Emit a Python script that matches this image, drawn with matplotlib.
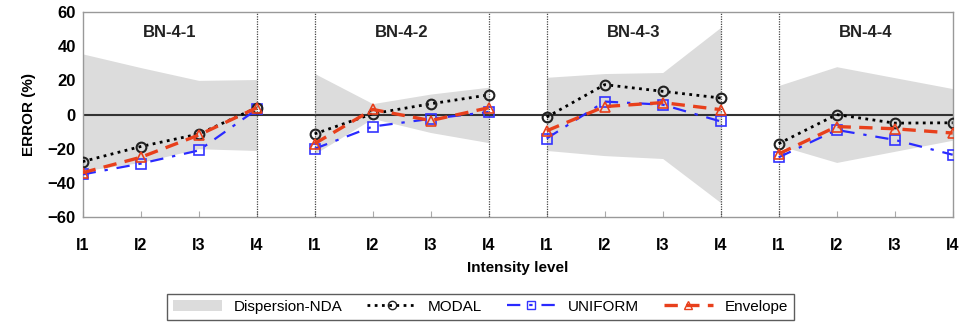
import matplotlib
matplotlib.use("Agg")
import matplotlib.pyplot as plt
import numpy as np
from matplotlib.patches import Patch
from matplotlib.lines import Line2D

plt.rcParams['font.family'] = ['Liberation Sans', 'DejaVu Sans']

panels = ["BN-4-1", "BN-4-2", "BN-4-3", "BN-4-4"]
levels = ["I1", "I2", "I3", "I4"]

modal = [[-27.5, -18.7, -11.4, 4.0],
         [-11.3, 0.5, 6.3, 11.5],
         [-1.5, 17.5, 13.6, 9.7],
         [-17.0, 0.0, -5.0, -4.8]]
uniform = [[-35.0, -28.7, -21.0, 3.0],
           [-20.0, -7.0, -2.5, 1.5],
           [-14.0, 7.6, 5.8, -4.0],
           [-25.0, -9.0, -14.8, -23.5]]
envelope = [[-34.0, -25.0, -12.0, 4.0],
            [-17.0, 3.0, -3.5, 4.0],
            [-9.5, 4.7, 7.0, 2.9],
            [-23.0, -7.0, -8.3, -10.8]]
disp_upper = [[35.5, 27.5, 20.0, 20.5],
              [24.0, 6.4, 12.0, 16.0],
              [21.8, 24.0, 24.6, 51.0],
              [17.0, 28.0, 21.6, 15.2]]
disp_lower = [[-33.0, -28.0, -20.0, -21.0],
              [-23.0, -2.3, -10.5, -16.4],
              [-21.0, -24.0, -25.7, -51.5],
              [-18.0, -28.0, -21.5, -15.0]]

fig = plt.figure(figsize=(9.59, 3.29), dpi=100)
ax = fig.add_axes([0.0862, 0.340, 0.9072, 0.6235])

n = len(levels)
for p in range(len(panels)):
    x = np.arange(n) + p * n
    ax.fill_between(x, disp_lower[p], disp_upper[p], color='#dcdcdc', lw=0, zorder=1)
    ax.plot(x, modal[p], color='black', ls=(0, (1, 1.6)), lw=2.0, marker='o',
            ms=7, mfc='none', mec='#222222', mew=1.5, zorder=4)
    ax.plot(x, uniform[p], color='#2a2aff', ls=(0, (6, 4, 1.5, 4)), lw=1.6, marker='s',
            ms=7, mfc='none', mec='#3333ff', mew=1.2, zorder=3)
    ax.plot(x, envelope[p], color='#e8401c', ls=(0, (4, 2.5)), lw=2.4, marker='^',
            ms=7, mfc='none', mec='#e8401c', mew=1.2, zorder=5)
    ax.text(p * n + 1.5, 48, panels[p], ha='center', va='center',
            fontsize=12, fontweight='bold', color='#222222')

ax.axhline(0, color='#333333', lw=1.5, zorder=2)
for xv in [3, 4, 7, 8, 11, 12]:
    ax.axvline(xv, color='#444444', lw=0.9, ls=(0, (1, 1)), zorder=2)

ax.set_xlim(0, len(panels) * n - 1)
ax.set_ylim(-60, 60)
ax.set_yticks(np.arange(-60, 61, 20))
ax.set_yticklabels([str(v).replace('-', '\u2212') for v in range(-60, 61, 20)],
                   fontsize=12, fontweight='bold')
ax.set_xticks(np.arange(len(panels) * n))
ax.set_xticklabels(levels * len(panels), fontsize=11.5, fontweight='bold')
ax.tick_params(axis='x', direction='in', length=4, color='#aaaaaa', pad=15)
ax.tick_params(axis='y', length=0, pad=5)
for s in ax.spines.values():
    s.set_color('#999999')
    s.set_linewidth(1.0)

ax.set_ylabel("ERROR (%)", fontsize=11, fontweight='bold', labelpad=8)
ax.set_xlabel("Intensity level", fontsize=11, fontweight='bold', labelpad=6)

handles = [Patch(facecolor='#dcdcdc', edgecolor='none'),
           Line2D([], [], color='black', ls=(0, (1, 1.6)), lw=2.0, marker='o', ms=6,
                  mfc='none', mec='#222222'),
           Line2D([], [], color='#2a2aff', ls=(0, (6, 4, 1.5, 4)), lw=1.6, marker='s', ms=6,
                  mfc='none', mec='#3333ff'),
           Line2D([], [], color='#e8401c', ls=(0, (4, 2.5)), lw=2.4, marker='^', ms=6,
                  mfc='none', mec='#e8401c')]
leg = fig.legend(handles, ["Dispersion-NDA", "MODAL", "UNIFORM", "Envelope"],
                 loc='center', bbox_to_anchor=(0.501, 0.068), ncol=4, frameon=True,
                 fancybox=False, edgecolor='#333333', fontsize=11, handlelength=3.2,
                 columnspacing=1.6, borderpad=0.4)
leg.get_frame().set_linewidth(1.0)

fig.savefig("out.png", dpi=100)
